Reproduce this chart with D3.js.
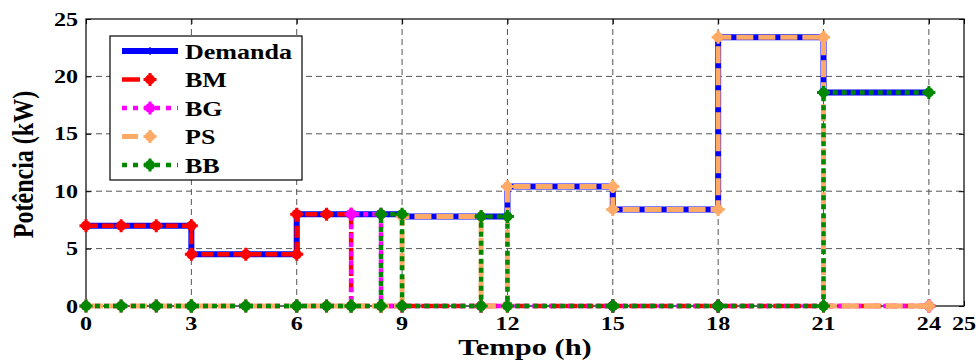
<!DOCTYPE html>
<html><head><meta charset="utf-8">
<script src="https://cdn.jsdelivr.net/npm/d3@7"></script>
<style>body{margin:0;background:#fff}</style>
</head><body><svg id="c" width="980" height="361"></svg>
<script>
// ---- data ----
const tempo   = [0,1,2,3,3,4.55,6,6,6.85,7.55,7.55,8.4,8.4,9,9,11.25,11.25,12,12,15,15,18,18,21,21,24];
const demanda = [7,7,7,7,4.5,4.5,4.5,8,8,8,8,8,8,8,7.8,7.8,7.8,7.8,10.4,10.4,8.4,8.4,23.4,23.4,18.6,18.6];
const bm      = [7,7,7,7,4.5,4.5,4.5,8,8,8,0,0,0,0,0,0,0,0,0,0,0,0,0,0,0,0];
const bg      = [0,0,0,0,0,0,0,0,0,0,8,8,0,0,0,0,0,0,0,0,0,0,0,0,0,0];
const ps      = [0,0,0,0,0,0,0,0,0,0,0,0,0,0,7.8,7.8,0,0,10.4,10.4,8.4,8.4,23.4,23.4,0,0];
const bb      = [0,0,0,0,0,0,0,0,0,0,0,0,8,8,0,0,7.8,7.8,0,0,0,0,0,0,18.6,18.6];
const seriesNames = ["Demanda","BM","BG","PS","BB"];
const xTicks = [0,3,6,9,12,15,18,21,24,25];
const yTicks = [0,5,10,15,20,25];
const xLabel = "Tempo (h)";
const yLabel = "Potência (kW)";

const seriesData = [demanda, bm, bg, ps, bb];
const styles = [
  {color:"#0000ff", w:6,   dash:null,    marker:"plus"},
  {color:"#ff0000", w:4.5, dash:"12,4",  marker:"star"},
  {color:"#ff00ff", w:4.5, dash:"5,4",   marker:"star"},
  {color:"#ffaa66", w:5,   dash:"17,5",  marker:"star"},
  {color:"#008800", w:4.5, dash:"5,4",   marker:"star"}
];
const legendDash = [null, "18,38", "5,6", "16,40", "5,6"];

const svg = d3.select("#c");
const M = {l:86, r:964, t:19, b:306};
const x = d3.scaleLinear().domain([0,25]).range([M.l, M.r]);
const y = d3.scaleLinear().domain([0,25]).range([M.b, M.t]);
const SX = 1.27;
const FONT = "Liberation Serif, Times New Roman, Times, serif";

// grid
const grid = svg.append("g");
grid.selectAll("line.gx").data(xTicks.filter(d => d > 0 && d < 25)).join("line")
  .attr("x1", d => x(d)).attr("x2", d => x(d)).attr("y1", M.t).attr("y2", M.b)
  .attr("stroke", "#555").attr("stroke-width", 1).attr("stroke-dasharray", "6,4");
grid.selectAll("line.gy").data(yTicks.filter(d => d > 0 && d < 25)).join("line")
  .attr("x1", M.l).attr("x2", M.r).attr("y1", d => y(d)).attr("y2", d => y(d))
  .attr("stroke", "#555").attr("stroke-width", 1).attr("stroke-dasharray", "6,4");

// axes ticks (inward) on all four sides
const axB = svg.append("g").attr("transform", `translate(0,${M.b})`)
  .call(d3.axisBottom(x).tickValues(xTicks).tickSize(-5).tickFormat(""));
const axT = svg.append("g").attr("transform", `translate(0,${M.t})`)
  .call(d3.axisTop(x).tickValues(xTicks).tickSize(-5).tickFormat(""));
const axL = svg.append("g").attr("transform", `translate(${M.l},0)`)
  .call(d3.axisLeft(y).tickValues(yTicks).tickSize(-5).tickFormat(""));
const axR = svg.append("g").attr("transform", `translate(${M.r},0)`)
  .call(d3.axisRight(y).tickValues(yTicks).tickSize(-5).tickFormat(""));
[axB, axT, axL, axR].forEach(a => { a.select(".domain").remove(); a.selectAll("line").attr("stroke", "#000"); });

// box
svg.append("rect").attr("x", M.l).attr("y", M.t).attr("width", M.r - M.l).attr("height", M.b - M.t)
  .attr("fill", "none").attr("stroke", "#000").attr("stroke-width", 1.2);

// tick labels
function stext(g, tx, ty, str, size, anchor) {
  return g.append("text").attr("transform", `translate(${tx},${ty}) scale(${SX},1)`)
    .attr("text-anchor", anchor).attr("font-family", FONT).attr("font-weight", "bold")
    .attr("font-size", size).attr("fill", "#000").text(str);
}
const lab = svg.append("g");
xTicks.forEach(d => stext(lab, x(d), 330, String(d), 19, "middle"));
yTicks.forEach(d => stext(lab, 78, y(d) + 6.5, String(d), 19, "end"));
stext(lab, (M.l + M.r) / 2, 355, xLabel, 24, "middle");
svg.append("text").attr("transform", `translate(33,${(M.t + M.b) / 2 + 2}) rotate(-90) scale(1,1.2)`)
  .attr("text-anchor", "middle").attr("font-family", FONT).attr("font-weight", "bold")
  .attr("font-size", 24).text(yLabel);

// markers
function drawMarker(g, cx, cy, st) {
  if (st.marker === "plus") {
    g.append("path").attr("d", `M${cx-4},${cy}H${cx+4}M${cx},${cy-4}V${cy+4}`)
      .attr("stroke", st.color).attr("stroke-width", 1.2).attr("fill", "none");
  } else {
    g.append("circle").attr("cx", cx).attr("cy", cy).attr("r", 5).attr("fill", st.color);
    g.append("path").attr("d", `M${cx-6.5},${cy}H${cx+6.5}M${cx},${cy-6.5}V${cy+6.5}`)
      .attr("stroke", st.color).attr("stroke-width", 3).attr("fill", "none");
  }
}

// series
const plot = svg.append("g");
seriesData.forEach((vals, k) => {
  const st = styles[k];
  const line = d3.line().x((d, i) => x(tempo[i])).y(d => y(d));
  plot.append("path").datum(vals).attr("d", line)
    .attr("fill", "none").attr("stroke", st.color).attr("stroke-width", st.w)
    .attr("stroke-dasharray", st.dash).attr("stroke-linejoin", "miter");
  const mg = plot.append("g");
  vals.forEach((v, i) => drawMarker(mg, x(tempo[i]), y(v), st));
});

// legend
const lg = svg.append("g");
lg.append("rect").attr("x", 110).attr("y", 36).attr("width", 192).attr("height", 144)
  .attr("fill", "#fff").attr("stroke", "#000").attr("stroke-width", 1.2);
seriesNames.forEach((name, k) => {
  const st = styles[k];
  const cy = 51 + k * 28.5;
  lg.append("line").attr("x1", 122).attr("x2", 178).attr("y1", cy).attr("y2", cy)
    .attr("stroke", st.color).attr("stroke-width", st.w)
    .attr("stroke-dasharray", legendDash[k]);
  drawMarker(lg, 150, cy, st);
  stext(lg, 185, cy + 7.5, name, 20.5, "start");
});
</script></body></html>
